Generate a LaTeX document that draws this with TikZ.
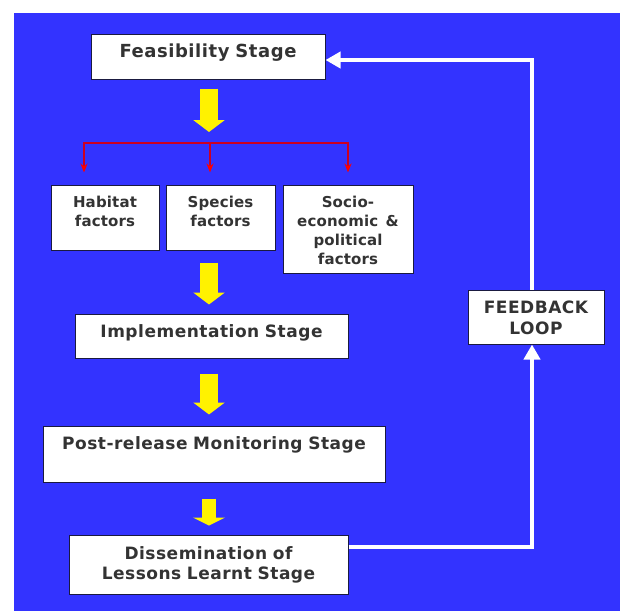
\documentclass[tikz,border=0pt]{standalone}
\usepackage{fontspec}
\usepackage{tikz}
\usetikzlibrary{arrows.meta}
\newfontfamily\stagefont{DejaVu Sans}[LetterSpace=3]
\newfontfamily\factorfont{DejaVu Sans}[LetterSpace=1]
\definecolor{bluebg}{RGB}{51,51,255}
\definecolor{boxedge}{HTML}{1A1A40}
\definecolor{inktext}{HTML}{333333}
\definecolor{forkred}{RGB}{204,0,34}

\begin{document}
\begin{tikzpicture}[
  x=1pt, y=-1pt,
  stagebox/.style={
    rectangle, draw=boxedge, line width=1pt, fill=white, align=center,
    inner sep=0pt, anchor=base, text=inktext,
    font=\stagefont\bfseries\fontsize{17}{20.5}\selectfont
  },
  factorbox/.style={
    stagebox, font=\factorfont\bfseries\fontsize{15}{19.3}\selectfont
  },
  yarrow/.style={
    draw=yellow, line width=18pt,
    -{Triangle[width=31pt,length=12pt]}
  },
  forkarrow/.style={
    draw=forkred, line width=2pt, shorten >=12pt,
    -{Stealth[length=9pt,width=7pt,color=red]}
  },
  looparrow/.style={
    draw=white, line width=4pt,
    -{Triangle[width=16pt,length=15pt]}
  }
]
% background
\fill[white] (0,0) rectangle (620,611);
\fill[bluebg] (14,13) rectangle (620,611);
\useasboundingbox (0,0) rectangle (620,611);

% stages
\node (feas) [stagebox, text width=234pt, text height=23pt, text depth=22pt,
  font=\stagefont\bfseries\fontsize{18}{21}\selectfont] at (208,57)
  {Feasibility Stage};

\node (hab) [factorbox, text width=108pt, text height=22pt, text depth=43pt]
  at (105,207) {Habitat\\factors};
\node (spec) [factorbox, text width=109pt, text height=22pt, text depth=43pt]
  at (220.5,207) {Species\\factors};
\node (socio) [factorbox, text width=130pt, text height=22pt, text depth=66pt]
  at (348,207) {Socio-\\economic \,\&\\political\\factors};

\node (impl) [stagebox, text width=273pt, text height=23pt, text depth=21pt]
  at (211.5,337) {Implementation Stage};
\node (post) [stagebox, text width=342pt, text height=23pt, text depth=33pt]
  at (214,449) {Post-release Monitoring Stage};
\node (dis) [stagebox, text width=279pt, text height=24pt, text depth=35pt]
  at (208.5,559) {Dissemination of\\Lessons Learnt Stage};

\node (fb) [stagebox, text width=136pt, text height=23pt, text depth=31pt,
  font=\stagefont\bfseries\fontsize{17}{21.3}\selectfont]
  at (536,313) {FEEDBACK\\LOOP};

\coordinate (axis) at (209,0);
\coordinate (fork) at (210,143);

% yellow arrows
\draw[yarrow, shorten <=9pt, shorten >=11pt] (axis |- feas.south) -- (axis |- fork);
\draw[yarrow, shorten <=12pt, shorten >=9pt] (axis |- spec.south) -- (axis |- impl.north);
\draw[yarrow, shorten <=15pt, shorten >=11pt] (axis |- impl.south) -- (axis |- post.north);
\draw[yarrow, line width=14pt, -{Triangle[width=32pt,length=8pt]},
  shorten <=16pt, shorten >=9pt] (axis |- post.south) -- (axis |- dis.north);

% red fork
\draw[forkarrow] (fork) -| ([xshift=-21pt]hab.north);
\draw[forkarrow] (fork) -- (fork |- spec.north);
\draw[forkarrow] (fork) -| (socio.north);

% feedback loop
\draw[looparrow] ([yshift=-12pt]dis.north east) -| ([xshift=-4pt]fb.south);
\draw[looparrow] ([xshift=-4pt]fb.north) |- ([yshift=-3.5pt]feas.east);
\end{tikzpicture}
\end{document}
